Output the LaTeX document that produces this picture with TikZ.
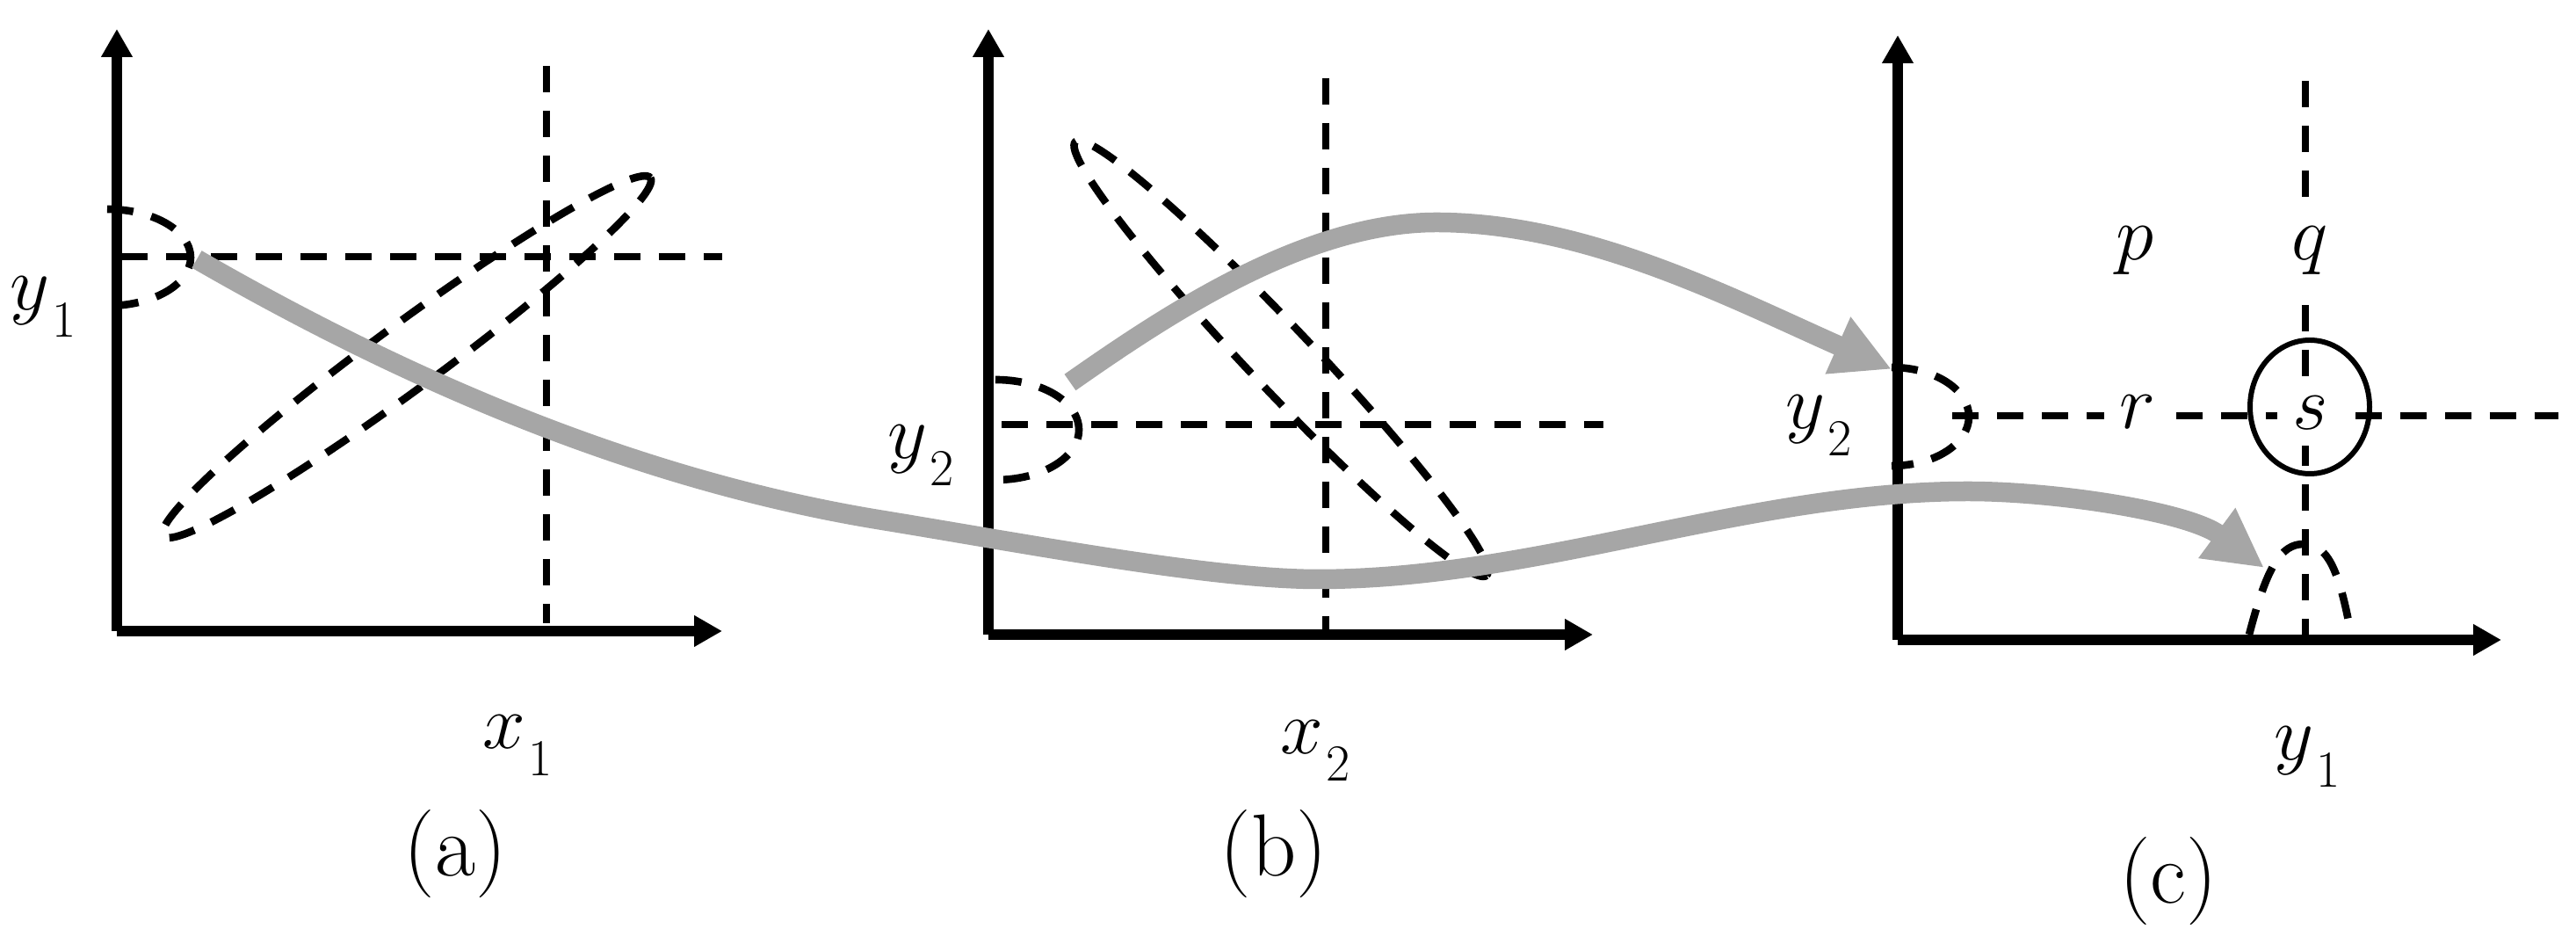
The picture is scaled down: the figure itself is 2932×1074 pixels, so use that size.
\documentclass[tikz,border=0pt]{standalone}
\usepackage{fontspec}
\usetikzlibrary{arrows.meta}
\definecolor{arrowgray}{RGB}{166,166,166}
\newcommand{\mysub}[2]{$#1$\kern1pt\raisebox{-8.8pt}{\fontsize{16.8}{19}\selectfont #2}}
\tikzset{
  axisline/.style={line width=3.2pt, -{Triangle[length=9.1pt,width=9.6pt]}},
  dline/.style={line width=2.45pt, dash pattern=on 8.5pt off 6pt},
  grayarrow/.style={line width=6.4pt, draw=arrowgray, -{Triangle[length=19pt,width=18.8pt]}},
  mathlbl/.style={inner sep=0pt, anchor=base, font=\fontsize{26.5}{31}\selectfont},
  panellbl/.style={inner sep=0pt, anchor=base, font=\fontsize{28.5}{34}\selectfont},
  cutlbl/.style={mathlbl, fill=white, inner sep=5pt},
  ringline/.style={line width=1.7pt}
}
\begin{document}
\begin{tikzpicture}[x=0.01cm, y=-0.01cm]
\useasboundingbox (0,0) rectangle (2932,1074);

% ---------- panel (a) ----------
\coordinate (oa) at (133,718);
\draw[axisline] (oa) -- (133,33);
\draw[axisline] (oa) -- (822,718);
\draw[dline] (622,75) -- (622,709);
\draw[dline] (138,292) -- (822,292);
\draw[dline, shift={(463,406)}, rotate=36.3] (0,0) ellipse [x radius=344, y radius=37];
\draw[dline] (122,238) .. controls (174.5,238) and (217,262.6) .. (217,293)
             .. controls (217,323.4) and (174.5,348) .. (122,348);
\node[mathlbl] (ya) at (49,353) {\mysub{y}{1}};
\node[mathlbl] (xa) at (589,852) {\mysub{x}{1}};
\node[panellbl] (la) at (518,997) {(a)};

% ---------- panel (b) ----------
\coordinate (ob) at (1125,722);
\draw[axisline] (ob) -- (1125,33);
\draw[axisline] (ob) -- (1813,722);
\draw[dline] (1509,89) -- (1509,716);
\draw[dline] (1140,483) -- (1825,483);
\draw[dline, shift={(1458,408)}, rotate=-46.5] (0,0) ellipse [x radius=340, y radius=36];
\draw[dline] (1133,432) .. controls (1185.5,432) and (1228,457) .. (1228,489)
             .. controls (1228,521) and (1185.5,546) .. (1133,546);
\node[mathlbl] (yb) at (1048,522) {\mysub{y}{2}};
\node[mathlbl] (xb) at (1497,858) {\mysub{x}{2}};
\node[panellbl] (lb) at (1450,997) {(b)};

% ---------- panel (c) ----------
\coordinate (oc) at (2160,728);
\draw[axisline] (oc) -- (2160,40);
\draw[axisline] (oc) -- (2847,728);
\draw[dline] (2624,92) -- (2624,722);
\draw[dline] (2222,473) -- (2912,473);
\draw[dline] (2153,418) .. controls (2201.6,418) and (2241,443) .. (2241,474)
             .. controls (2241,505) and (2201.6,530) .. (2153,530);
\draw[dline] (2560,722) .. controls (2580,645) and (2596,619) .. (2622,619)
             .. controls (2648,619) and (2662,645) .. (2676,722);
\node[mathlbl] (p) at (2430,296) {$p$};
\node[cutlbl] (q) at (2629,296) {$q$};
\node[cutlbl] (r) at (2433,488) {$r$};
\node[cutlbl] (s) at (2630,489) {$s$};
\draw[ringline] (2629,463) ellipse [x radius=68, y radius=76];
\node[mathlbl] (yc2) at (2070,488) {\mysub{y}{2}};
\node[mathlbl] (yc1) at (2626,865) {\mysub{y}{1}};
\node[panellbl] (lc) at (2468,1028) {(c)};

% ---------- gray mapping arrows ----------
\coordinate (g1s) at (224,295);
\coordinate (g1e) at (2577,646);
\draw[grayarrow] (g1s) .. controls (484,445) and (745,550) .. (1005,592)
      .. controls (1170,619) and (1380,659) .. (1500,659)
      .. controls (1750,659) and (1990,559) .. (2240,559)
      .. controls (2340,559) and (2490,582) .. (g1e);
\coordinate (g2s) at (1218,435);
\coordinate (g2e) at (2153,420);
\draw[grayarrow] (g2s) .. controls (1328,358) and (1485,253) .. (1635,253)
      .. controls (1805,253) and (1970,339) .. (g2e);
\end{tikzpicture}
\end{document}
